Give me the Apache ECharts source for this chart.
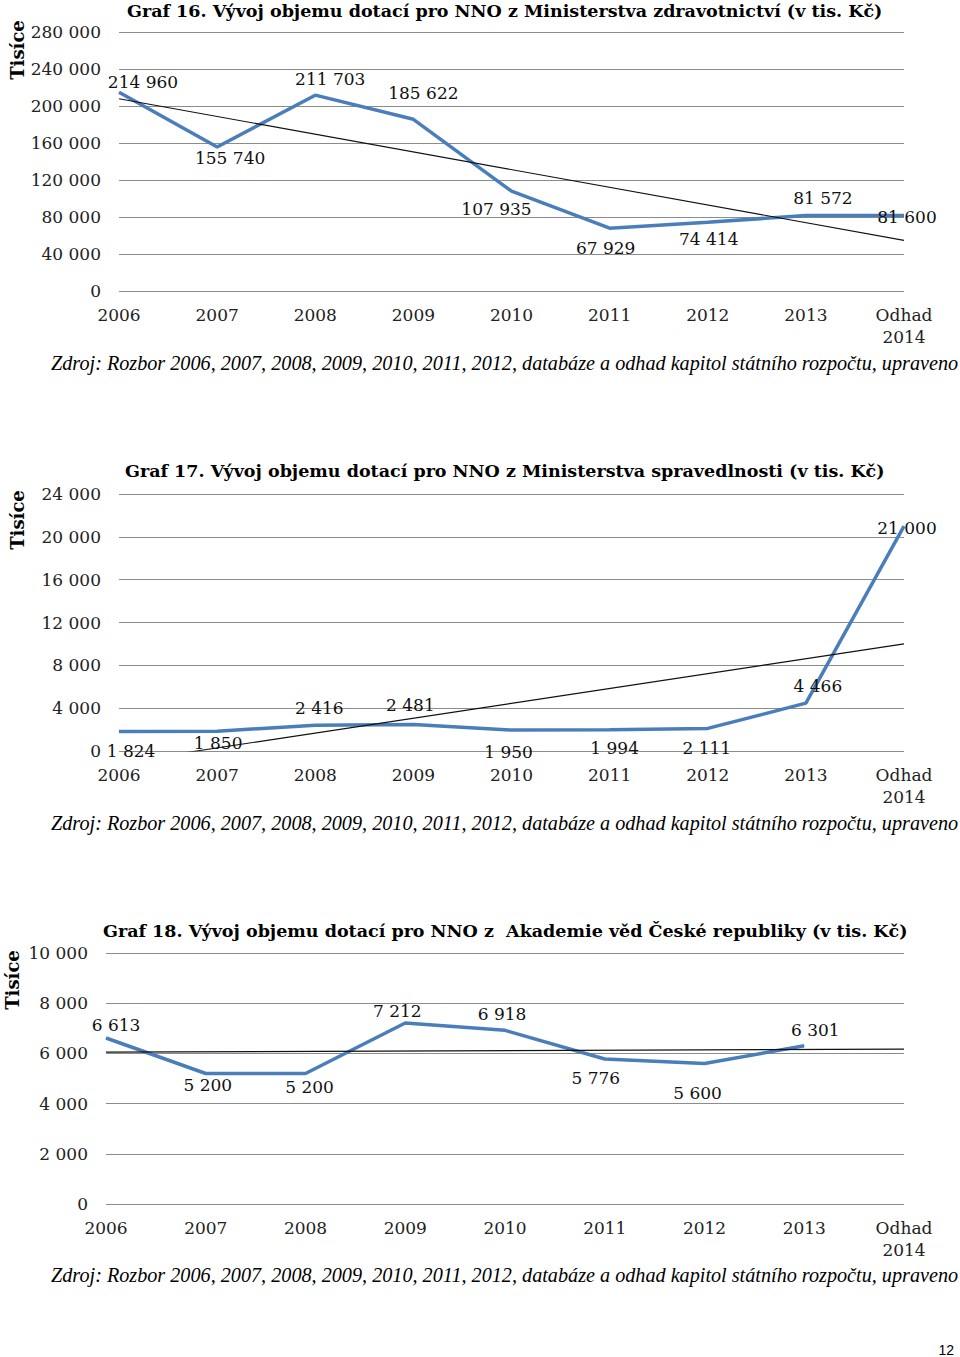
<!DOCTYPE html>
<html>
<head>
<meta charset="utf-8">
<script src="https://cdn.jsdelivr.net/npm/echarts@6/dist/echarts.min.js"></script>
<style>
html,body{margin:0;padding:0;background:#fff;}
#chart{width:960px;height:1357px;}
</style>
</head>
<body>
<div id="chart"></div>
<script>
// ---------- data ----------
const categories = ['2006', '2007', '2008', '2009', '2010', '2011', '2012', '2013', 'Odhad\n2014'];

const values16 = [214960, 155740, 211703, 185622, 107935, 67929, 74414, 81572, 81600];
const values17 = [1824, 1850, 2416, 2481, 1950, 1994, 2111, 4466, 21000];
const values18 = [6613, 5200, 5200, 7212, 6918, 5776, 5600, 6301, null];

// linear trendline end values (first and last category)
const trend16 = [207800, 54700];
const trend17 = [-1100, 10000];
const trend18 = [6050, 6170];

const yTicks16 = [0, 40000, 80000, 120000, 160000, 200000, 240000, 280000];
const yTicks17 = [0, 4000, 8000, 12000, 16000, 20000, 24000];
const yTicks18 = [0, 2000, 4000, 6000, 8000, 10000];

const titles = [
  'Graf 16. Vývoj objemu dotací pro NNO z Ministerstva zdravotnictví (v tis. Kč)',
  'Graf 17. Vývoj objemu dotací pro NNO z Ministerstva spravedlnosti (v tis. Kč)',
  'Graf 18. Vývoj objemu dotací pro NNO z  Akademie věd České republiky (v tis. Kč)'
];
const sourceText = 'Zdroj: Rozbor 2006, 2007, 2008, 2009, 2010, 2011, 2012, databáze a odhad kapitol státního rozpočtu, upraveno';
const unitText = 'Tisíce';
const pageNumber = '12';

// ---------- label placement (style only) ----------
const labelOffsets16 = [[24,-10],[13,11],[15,-16],[10,-26],[-15,18],[-4,20],[1,17],[17,-18],[3,1]];
const labelOffsets17 = [[12,20],[1,12],[4,-17],[-3,-19],[-3,22],[5,18],[-1,20],[12,-17],[3,2]];
const labelOffsets18 = [[10,-13],[2,12],[4,14],[-8,-12],[-3,-16],[-9,19],[-7,30],[11,-16],[0,0]];

// ---------- helpers ----------
const fmt = v => String(v).replace(/\B(?=(\d{3})+(?!\d))/g, ' ');
const SERIF = '"DejaVu Serif", serif';
const LINE_COLOR = '#4A7EBB';
const GRID_COLOR = '#8c8c8c';

const grids = [
  {left: 119, right: 56, top: 32, height: 259},
  {left: 119, right: 56, top: 494, height: 257},
  {left: 106, right: 56, top: 953, height: 251}
];
const yTickSets = [yTicks16, yTicks17, yTicks18];
const valueSets = [values16, values17, values18];
const offsetSets = [labelOffsets16, labelOffsets17, labelOffsets18];
const trendSets = [trend16, trend17, trend18];

const xAxes = grids.map((g, i) => ({
  type: 'category',
  gridIndex: i,
  data: categories,
  boundaryGap: false,
  axisLine: {show: false},
  axisTick: {show: false},
  axisLabel: {
    interval: 0, margin: 13, fontFamily: SERIF, fontSize: 17, color: '#222',
    lineHeight: 22
  },
  splitLine: {show: false}
}));

const yAxes = yTickSets.map((ticks, i) => ({
  type: 'value',
  gridIndex: i,
  min: ticks[0],
  max: ticks[ticks.length - 1],
  interval: ticks[1] - ticks[0],
  axisLine: {show: false},
  axisTick: {show: false},
  axisLabel: {margin: 18, fontFamily: SERIF, fontSize: 17, color: '#222', formatter: v => fmt(v)},
  splitLine: {show: true, lineStyle: {color: GRID_COLOR, width: 1}}
}));

const series = [];
valueSets.forEach((vals, i) => {
  series.push({
    type: 'line',
    xAxisIndex: i, yAxisIndex: i,
    data: vals.map((v, k) => ({
      value: v,
      label: {offset: offsetSets[i][k]}
    })),
    symbol: 'circle', symbolSize: 0, showSymbol: true,
    lineStyle: {color: LINE_COLOR, width: 3.5},
    itemStyle: {color: LINE_COLOR},
    label: {
      show: true, position: 'inside', fontFamily: SERIF, fontSize: 17, color: '#111',
      formatter: p => (p.value == null ? '' : fmt(p.value))
    },
    animation: false, z: 3
  });
  const t = trendSets[i];
  series.push({
    type: 'line',
    xAxisIndex: i, yAxisIndex: i,
    data: [[0, t[0]], [categories.length - 1, t[1]]],
    symbol: 'none',
    lineStyle: {color: '#111', width: 1.1},
    clip: true,
    animation: false, z: 4
  });
});

const titleTops = [11, 471, 931];
const titleLefts = [127, 125, 103];
const sourceTops = [364, 824, 1276];
const unitPos = [[17, 50], [17, 520], [12, 980]];

const graphics = [];
titles.forEach((t, i) => {
  graphics.push({
    type: 'text', left: titleLefts[i], top: titleTops[i] - 9,
    style: {text: t, font: 'bold 17.5px "DejaVu Serif", serif', fill: '#000'}
  });
  graphics.push({
    type: 'text', left: 51, top: sourceTops[i] - 11,
    style: {text: sourceText, font: 'italic 20.2px "Liberation Serif", serif', fill: '#000'}
  });
  graphics.push({
    type: 'text', x: unitPos[i][0], y: unitPos[i][1], rotation: Math.PI / 2,
    style: {text: unitText, font: 'bold 18px "DejaVu Serif", serif', fill: '#000',
            textAlign: 'center', textVerticalAlign: 'middle'}
  });
});
graphics.push({
  type: 'text', right: 6, top: 1343,
  style: {text: pageNumber, font: '14px "Liberation Sans", Arial, sans-serif', fill: '#000'}
});

const chart = echarts.init(document.getElementById('chart'), null, {renderer: 'svg'});
chart.setOption({
  animation: false,
  backgroundColor: '#fff',
  grid: grids,
  xAxis: xAxes,
  yAxis: yAxes,
  series: series,
  graphic: graphics
});
</script>
</body>
</html>
